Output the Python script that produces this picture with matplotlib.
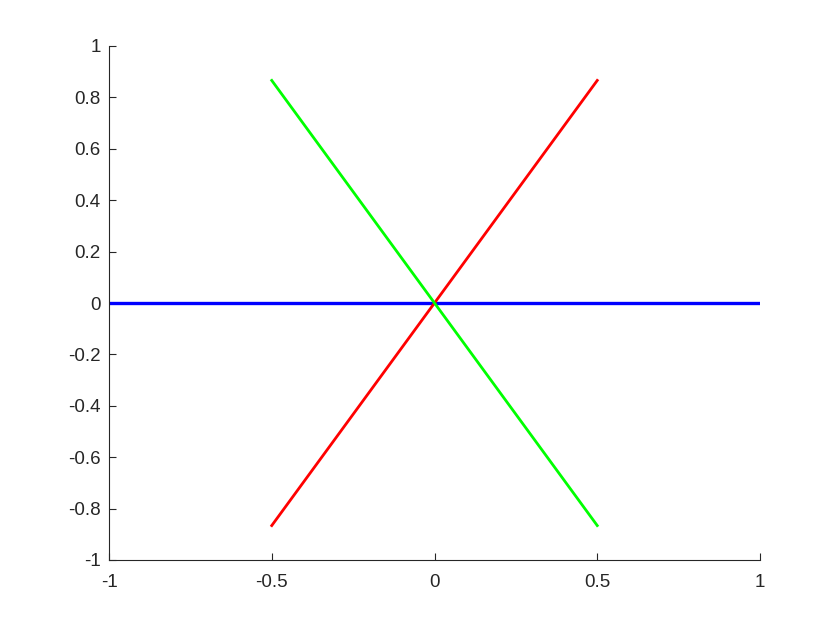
import matplotlib
matplotlib.use("Agg")
import matplotlib.pyplot as plt
import numpy as np

plt.rcParams['font.family'] = ['Liberation Sans', 'DejaVu Sans']

blue_x = [-1, 1]
blue_y = [0, 0]
red_x = [-0.5, 0.5]
red_y = [-0.866, 0.866]
green_x = [-0.5, 0.5]
green_y = [0.866, -0.866]
xticks = [-1, -0.5, 0, 0.5, 1]
yticks = [-1, -0.8, -0.6, -0.4, -0.2, 0, 0.2, 0.4, 0.6, 0.8, 1]

fig = plt.figure(figsize=(8.4, 6.3), dpi=100)
ax = fig.add_axes([109/840, 1-560/630, (760-109)/840, (560-46)/630])
ax.plot(blue_x, blue_y, color='#0000ff', lw=2.4, solid_capstyle='butt')
ax.plot(red_x, red_y, color='#ff0000', lw=2.0)
ax.plot(green_x, green_y, color='#00ff00', lw=2.0)
ax.set_xlim(-1, 1)
ax.set_ylim(-1, 1)
ax.set_xticks(xticks)
ax.set_xticklabels([f"{t:g}" for t in xticks])
ax.set_yticks(yticks)
ax.set_yticklabels([f"{t:g}" for t in yticks])
for s in ['top', 'right']:
    ax.spines[s].set_visible(False)
for s in ['left', 'bottom']:
    ax.spines[s].set_color('#262626')
    ax.spines[s].set_linewidth(0.8)
ax.tick_params(direction='in', length=5, width=0.8, colors='#262626', labelsize=13.5)
ax.tick_params(axis='x', pad=10)
ax.tick_params(axis='y', pad=6)
fig.savefig('out.png', dpi=100)
